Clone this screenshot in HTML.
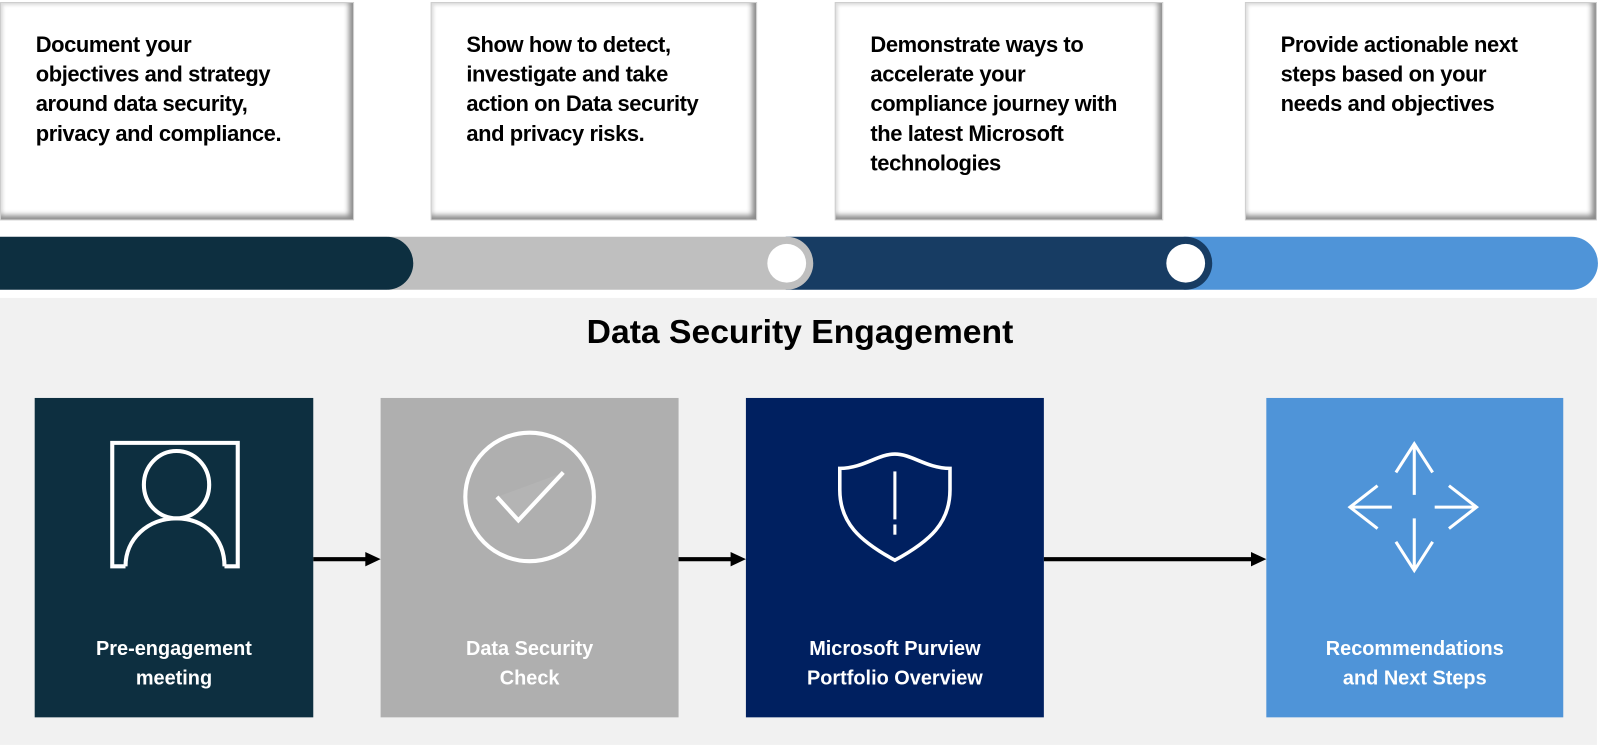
<!DOCTYPE html>
<html><head><meta charset="utf-8"><style>
body{margin:0;width:1600px;height:746px;background:#fff;overflow:hidden;font-family:"Liberation Sans",sans-serif;}
#w{position:absolute;left:0;top:0;width:1568px;height:731px;transform:scale(1.0204);transform-origin:0 0}
.tb{position:absolute;top:2px;height:214px;background:#fff;box-sizing:border-box;border:1px solid #ccc;box-shadow:inset -6px -6px 5px -2px #8a8a8a, inset 3px 3px 3px -1px #ddd;}
.tb p{margin:0;position:absolute;left:34px;top:27px;font-weight:bold;font-size:21.5px;line-height:29px;color:#000;letter-spacing:-0.4px}
.seg{position:absolute;top:232px;height:52px;border-radius:0 26px 26px 0}
.bx{position:absolute;top:390px;height:313px;color:#fff;font-weight:bold;font-size:19.5px;line-height:29px;text-align:center}
.bx span{position:absolute;left:0;right:0;top:232px}
</style></head><body><div id="w">
<div class="tb" style="left:0;width:347px"><p>Document your<br>objectives and strategy<br>around data security,<br>privacy and compliance.</p></div>
<div class="tb" style="left:422px;width:320px"><p>Show how to detect,<br>investigate and take<br>action on Data security<br>and privacy risks.</p></div>
<div class="tb" style="left:818px;width:322px"><p>Demonstrate ways to<br>accelerate your<br>compliance journey with<br>the latest Microsoft<br>technologies</p></div>
<div class="tb" style="left:1220px;width:345px"><p>Provide actionable next<br>steps based on your<br>needs and objectives</p></div>

<div class="seg" style="left:1160px;width:406px;background:#4f94d8"></div>
<div class="seg" style="left:770px;width:418px;background:#173c63"></div>
<div class="seg" style="left:380px;width:417px;background:#bfbfbf"></div>
<div class="seg" style="left:0;width:405px;background:#0d2f40"></div>
<div style="position:absolute;left:752px;top:239px;width:38px;height:38px;border-radius:50%;background:#fff"></div>
<div style="position:absolute;left:1143px;top:239px;width:38px;height:38px;border-radius:50%;background:#fff"></div>

<div style="position:absolute;left:0;top:292px;width:1565px;height:438px;background:#f1f1f1"></div>
<div style="position:absolute;left:0;width:1568px;top:306px;text-align:center;font-weight:bold;font-size:33px;color:#000">Data Security Engagement</div>

<div class="bx" style="left:34px;width:273px;background:#0d2f40"><span>Pre-engagement<br>meeting</span></div>
<div class="bx" style="left:373px;width:292px;background:#afafaf"><span>Data Security<br>Check</span></div>
<div class="bx" style="left:731px;width:292px;background:#002060"><span>Microsoft Purview<br>Portfolio Overview</span></div>
<div class="bx" style="left:1241px;width:291px;background:#4f94d8"><span>Recommendations<br>and Next Steps</span></div>

<svg style="position:absolute;left:0;top:0" width="1568" height="731">
<g stroke="#000" stroke-width="4" fill="#000">
<line x1="307" y1="548" x2="360" y2="548"/><polygon points="358,541 373,548 358,555" stroke="none"/>
<line x1="665" y1="548" x2="718" y2="548"/><polygon points="716,541 731,548 716,555" stroke="none"/>
<line x1="1023" y1="548" x2="1228" y2="548"/><polygon points="1226,541 1241,548 1226,555" stroke="none"/>
</g>
<polygon points="487,487 552,463 508,510" fill="#bdbdbd" opacity="0.35"/>
<g stroke="#fff" stroke-width="4" fill="none">
<path d="M123,555 H110 V434 H233 V555 H220"/>
<ellipse cx="173" cy="475" rx="32" ry="33"/>
<path d="M123,555 C123,528 145,508 173,508 C201,508 220,528 220,555"/>
<ellipse cx="519" cy="487" rx="63" ry="63"/>
<path d="M487,487 L508,510 L552,463"/>
<path d="M823,459 C846,459 860,445 877,445 C894,445 908,459 931,459 L931,480 C931,512 912,530 877,549 C842,530 823,512 823,480 Z" stroke-width="3.5"/>
</g>
<g stroke="#fff" stroke-width="3" fill="none">
<line x1="877" y1="462" x2="877" y2="509"/><line x1="877" y1="514" x2="877" y2="524"/>
<path d="M1368,463 L1386,435 L1404,463 M1386,437 V485"/>
<path d="M1368,531 L1386,559 L1404,531 M1386,557 V508"/>
<path d="M1350,476 L1323,497 L1350,518 M1325,497 H1364"/>
<path d="M1420,476 L1447,497 L1420,518 M1445,497 H1406"/>
</g>
</svg>
</div></body></html>
